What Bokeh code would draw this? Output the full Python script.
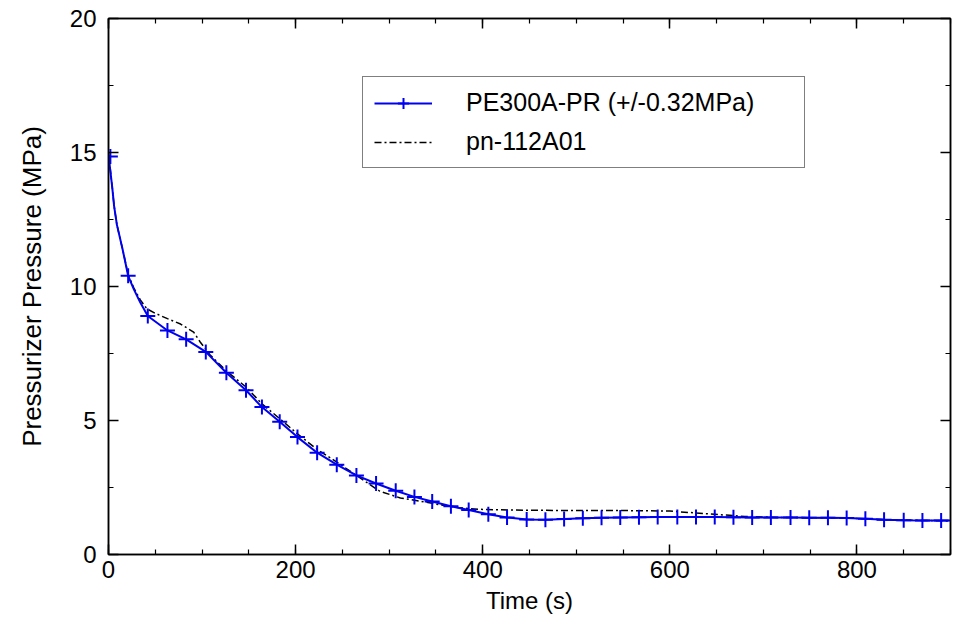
from bokeh.plotting import figure
from bokeh.models import (Range1d, LinearAxis, SingleIntervalTicker, Legend, LegendItem,
                          CustomJSTickFormatter)
from bokeh.embed import file_html
from bokeh.resources import INLINE

# PE300A-PR measured pressure (line points)
pe_t = [0, 4, 6, 9, 15, 21, 27, 34, 42, 63, 83, 104, 126, 147, 164, 183, 202, 223, 244, 265,
        286, 307, 327, 346, 366, 385, 406, 426, 447, 467, 487, 507, 527, 547, 567, 587, 608,
        628, 648, 668, 688, 708, 729, 749, 769, 789, 809, 829, 850, 870, 890, 900]
pe_p = [14.9, 13.7, 13.0, 12.3, 11.4, 10.4, 9.9, 9.4, 8.9, 8.36, 8.03, 7.56, 6.78, 6.13, 5.5,
        4.95, 4.38, 3.8, 3.35, 2.95, 2.65, 2.38, 2.15, 1.98, 1.8, 1.66, 1.5, 1.38, 1.31, 1.3,
        1.32, 1.35, 1.37, 1.38, 1.39, 1.4, 1.4, 1.4, 1.4, 1.39, 1.38, 1.38, 1.38, 1.37, 1.37,
        1.36, 1.33, 1.3, 1.28, 1.27, 1.27, 1.27]

# PE300A-PR marker samples
mk_t = [2, 21, 42, 63, 83, 104, 126, 147, 164, 183, 202, 223, 244, 265, 286, 307, 327, 346,
        366, 385, 406, 426, 447, 467, 487, 507, 527, 547, 567, 587, 608, 628, 648, 668, 688,
        708, 729, 749, 769, 789, 809, 829, 850, 870, 890]
mk_p = [14.85, 10.4, 8.9, 8.36, 8.03, 7.56, 6.78, 6.13, 5.5, 4.95, 4.38, 3.8, 3.35, 2.95,
        2.65, 2.38, 2.15, 1.98, 1.8, 1.66, 1.5, 1.38, 1.31, 1.3, 1.32, 1.35, 1.37, 1.38, 1.39,
        1.4, 1.4, 1.4, 1.4, 1.39, 1.38, 1.38, 1.38, 1.37, 1.37, 1.36, 1.33, 1.3, 1.28, 1.27,
        1.27]

# pn-112A01 calculation
pn_t = [0, 4, 6, 9, 15, 21, 27, 34, 41, 50, 63, 77, 91, 98, 109, 126, 147, 164, 183, 202,
        223, 244, 265, 290, 312, 333, 355, 376, 400, 450, 500, 550, 600, 640, 680, 720, 780,
        830, 870, 900]
pn_p = [15.0, 13.7, 13.0, 12.3, 11.4, 10.45, 9.95, 9.5, 9.17, 9.0, 8.8, 8.6, 8.3, 7.93, 7.43,
        6.85, 6.25, 5.62, 5.07, 4.5, 3.92, 3.45, 2.95, 2.36, 2.11, 1.99, 1.85, 1.74, 1.68, 1.65,
        1.64, 1.64, 1.62, 1.52, 1.42, 1.38, 1.37, 1.3, 1.27, 1.25]

x_label = "Time (s)"
y_label = "Pressurizer Pressure (MPa)"
names = ["PE300A-PR (+/-0.32MPa)", "pn-112A01"]

FONT = "Liberation Sans"
BLUE = "#0000f0"

p = figure(width=952, height=616, output_backend="svg", toolbar_location=None,
           x_range=Range1d(0, 900), y_range=Range1d(0, 20),
           min_border_left=108, min_border_right=2, min_border_top=18, min_border_bottom=60)
p.grid.visible = False
p.outline_line_color = "black"
p.outline_line_width = 1.5
p.background_fill_color = "white"
p.border_fill_color = "white"

xt = SingleIntervalTicker(interval=200, num_minor_ticks=4)
yt = SingleIntervalTicker(interval=5, num_minor_ticks=2)


def style(ax, labels=True):
    ax.axis_line_color = "black"
    ax.axis_line_width = 1.5
    ax.major_tick_line_color = "black"
    ax.major_tick_line_width = 1.5
    ax.minor_tick_line_color = "black"
    ax.minor_tick_line_width = 1.2
    ax.major_tick_in = 10
    ax.major_tick_out = 0
    ax.minor_tick_in = 5
    ax.minor_tick_out = 0
    ax.major_label_text_font = FONT
    ax.major_label_text_font_size = "24px"
    ax.major_label_text_color = "black"
    ax.axis_label_text_font = FONT
    ax.axis_label_text_font_size = "24px"
    ax.axis_label_text_font_style = "normal"
    ax.axis_label_text_color = "black"
    if not labels:
        ax.formatter = CustomJSTickFormatter(code="return ''")
        ax.major_label_standoff = 0


p.xaxis.ticker = xt
p.yaxis.ticker = yt
p.xaxis.axis_label = x_label
p.yaxis.axis_label = y_label
style(p.xaxis[0])
style(p.yaxis[0])
p.xaxis.major_label_standoff = 6
p.xaxis.axis_label_standoff = 6
p.yaxis.major_label_standoff = 12
p.yaxis.axis_label_standoff = 20
p.yaxis.axis_label_text_font_size = "26px"

top = LinearAxis(ticker=xt)
right = LinearAxis(ticker=yt)
style(top, labels=False)
style(right, labels=False)
p.add_layout(top, "above")
p.add_layout(right, "right")

r_pn = p.line(pn_t, pn_p, line_color="black", line_width=1.5, line_dash="7 3 2 3")
r_pe = p.line(pe_t, pe_p, line_color=BLUE, line_width=2)
r_mk = p.scatter(mk_t, mk_p, marker="cross", size=15, line_color=BLUE, line_width=2)

legend = Legend(items=[LegendItem(label=names[0], renderers=[r_pe, r_mk]),
                       LegendItem(label=names[1], renderers=[r_pn])],
                location=(254, 386), orientation="vertical")
legend.label_text_font = FONT
legend.label_text_font_size = "25px"
legend.label_text_color = "black"
legend.glyph_width = 58
legend.glyph_height = 28
legend.label_height = 28
legend.label_width = 327
legend.label_standoff = 34
legend.padding = 11
legend.spacing = 10
legend.margin = 0
legend.border_line_color = "black"
legend.border_line_width = 1.5
legend.background_fill_alpha = 1.0
p.add_layout(legend, "center")

open("out.html", "w").write(file_html(p, INLINE))
